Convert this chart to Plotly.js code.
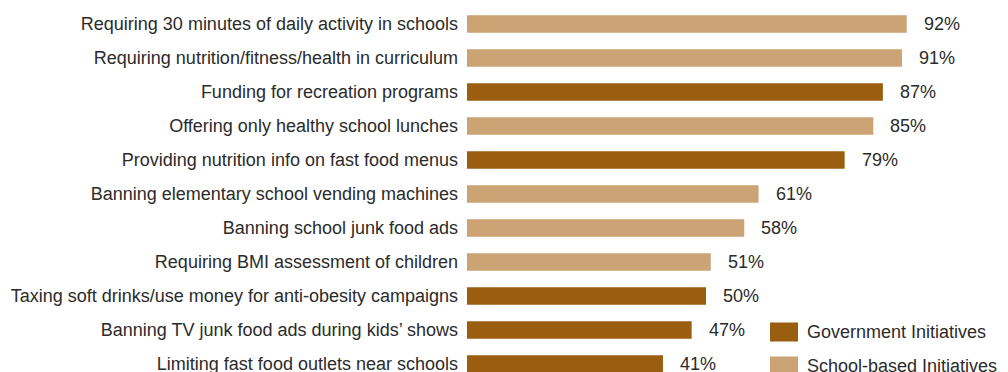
<!DOCTYPE html>
<html>
<head>
<meta charset="utf-8">
<script src="https://cdn.plot.ly/plotly-3.0.1.min.js"></script>
<style>html,body{margin:0;padding:0;background:#fff;}#chart{width:1008px;height:372px;}</style>
</head>
<body>
<div id="chart"></div>
<script>
const categories = [
  "Requiring 30 minutes of daily activity in schools",
  "Requiring nutrition/fitness/health in curriculum",
  "Funding for recreation programs",
  "Offering only healthy school lunches",
  "Providing nutrition info on fast food menus",
  "Banning elementary school vending machines",
  "Banning school junk food ads",
  "Requiring BMI assessment of children",
  "Taxing soft drinks/use money for anti-obesity campaigns",
  "Banning TV junk food ads during kids\u2019 shows",
  "Limiting fast food outlets near schools"
];
const values = [92, 91, 87, 85, 79, 61, 58, 51, 50, 47, 41];
const groups = ["School","School","Government","School","Government","School","School","School","Government","Government","Government"];
const seriesNames = {Government: "Government Initiatives", School: "School-based Initiatives"};
const colors = {Government: "#9B5E10", School: "#CBA375"};

const FONT = "Liberation Sans, Arial, sans-serif";
const FS = 18;
const TXT = "#2b2b2b";

const traces = ["Government", "School"].map(g => {
  const idx = categories.map((c, i) => i).filter(i => groups[i] === g);
  return {
    type: "bar",
    orientation: "h",
    name: seriesNames[g],
    y: idx.map(i => categories[i]),
    x: idx.map(i => values[i]),
    width: 0.52,
    marker: {color: colors[g], line: {width: 0}},
    showlegend: false,
    hoverinfo: "x+y"
  };
});

const annotations = categories.map((c, i) => ({
  x: values[i], y: c, xref: "x", yref: "y",
  text: values[i] + "%", showarrow: false,
  xanchor: "left", yanchor: "middle", xshift: 15,
  font: {family: FONT, size: FS, color: TXT}
}));

// manual legend (swatches + labels)
const legendItems = ["Government", "School"];
const shapes = [];
legendItems.forEach((g, k) => {
  const yc = 332 + k * 34; // pixel from top
  shapes.push({
    type: "rect", xref: "paper", yref: "paper",
    x0: (770 - 467) / 478, x1: (798 - 467) / 478,
    y0: (365 - (yc - 7) - 9.5) / 365, y1: (365 - (yc - 7) + 9.5) / 365,
    fillcolor: colors[g], line: {width: 0}
  });
  annotations.push({
    xref: "paper", yref: "paper",
    x: (805 - 467) / 478, y: (365 - (yc - 7)) / 365,
    text: seriesNames[g], showarrow: false,
    xanchor: "left", yanchor: "middle",
    font: {family: FONT, size: FS, color: TXT}
  });
});

const layout = {
  width: 1008, height: 372,
  margin: {l: 467, r: 63, t: 7, b: 0, pad: 0},
  paper_bgcolor: "#fff", plot_bgcolor: "#fff",
  barmode: "overlay",
  showlegend: false,
  xaxis: {range: [0, 100], visible: false, fixedrange: true},
  yaxis: {
    type: "category",
    categoryorder: "array", categoryarray: categories,
    range: [10.235, -0.5],
    showgrid: false, zeroline: false, showline: false,
    ticks: "", ticklabelstandoff: 8,
    tickfont: {family: FONT, size: FS, color: TXT},
    fixedrange: true
  },
  annotations: annotations,
  shapes: shapes
};

Plotly.newPlot("chart", traces, layout, {displayModeBar: false, staticPlot: true});
</script>
</body>
</html>
